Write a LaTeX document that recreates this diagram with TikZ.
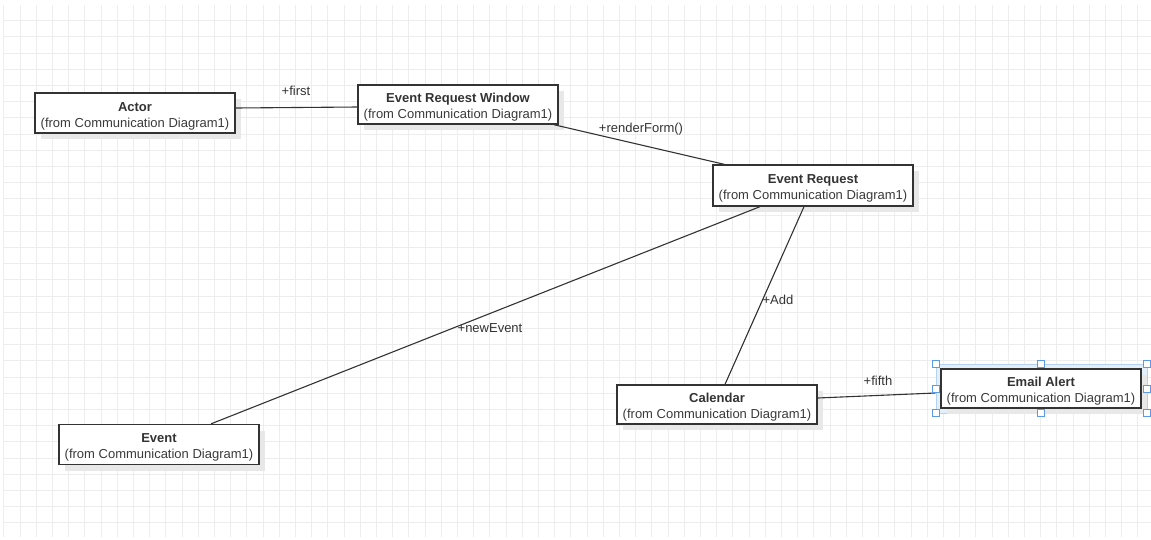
\documentclass[tikz,border=0pt]{standalone}
\usepackage{fontspec}
\setmainfont{Liberation Sans}
\usetikzlibrary{calc,shadows}
\definecolor{gridc}{HTML}{EDEDED}
\definecolor{ink}{HTML}{333333}
\definecolor{subink}{HTML}{3A3A3A}
\definecolor{selblue}{HTML}{5A9AE6}
\definecolor{selfill}{HTML}{E4EFFC}
\definecolor{shadowc}{HTML}{E8E8E8}
\tikzset{
  cls/.style={draw=ink, line width=1.3pt, fill=white, minimum width=200pt,
    minimum height=40pt, inner sep=0pt,
    general shadow={fill=shadowc, shadow xshift=6pt, shadow yshift=-6pt}},
  clstxt/.style={align=center, inner sep=0pt,
    font=\fontsize{13}{16}\selectfont, text=ink},
  conn/.style={draw=ink, line width=1.1pt},
  lbl/.style={font=\fontsize{13}{15.5}\selectfont, text=ink, inner sep=0pt},
  handle/.style={draw=selblue, fill=white, line width=0.8pt, minimum size=7pt, inner sep=0pt},
}
\newcommand{\clsText}[1]{{\bfseries #1}\\{\color{subink}(from Communication Diagram1)}}
\begin{document}
\begin{tikzpicture}[x=1pt, y=-1pt]
  \useasboundingbox (0,0) rectangle (1151,539);
  \fill[white] (0,0) rectangle (1151,539);
  % grid
  \begin{scope}
    \clip (3,5) rectangle (1151,537);
    \foreach \k in {-1,...,70} {
      \draw[gridc, line width=0.8pt] ({20+16.2*\k},5) -- ({20+16.2*\k},537);
    }
    \foreach \k in {-1,...,33} {
      \draw[gridc, line width=0.8pt] (3,{20.5+16.2*\k}) -- (1151,{20.5+16.2*\k});
    }
  \end{scope}

  % selection halo for Email Alert
  \fill[selfill] (936,364) rectangle (1147,413);
  \draw[selblue!45, line width=0.6pt] (936,364) rectangle (1147,413);

  % class boxes
  \node[cls, minimum height=40pt] (actor) at (135,113) {};
  \node[cls, minimum height=39pt] (erw) at (458,104.5) {};
  \node[cls, minimum height=41pt] (er) at (813,185.5) {};
  \node[cls, minimum height=39pt] (cal) at (717,404.5) {};
  \node[cls, minimum height=39pt, general shadow={fill=selfill, shadow xshift=0pt, shadow yshift=0pt}] (email) at (1041,388.5) {};
  \node[cls, minimum height=40pt] (event) at (159,444.5) {};

  % class texts
  \node[clstxt] (actorT) at ($(actor.center)+(0,3.5)$) {\clsText{Actor}};
  \node[clstxt] (erwT) at ($(erw.center)+(0,3)$) {\clsText{Event Request Window}};
  \node[clstxt] (erT) at ($(er.center)+(0,3)$) {\clsText{Event Request}};
  \node[clstxt] (calT) at ($(cal.center)+(0,3)$) {\clsText{Calendar}};
  \node[clstxt] (emailT) at ($(email.center)+(0,3)$) {\clsText{Email Alert}};
  \node[clstxt] (eventT) at ($(event.center)+(0,3)$) {\clsText{Event}};

  % connectors
  \draw[conn] ($(actor.east)+(0,-5)$) -- ($(erw.west)+(0,2.5)$);
  \draw[conn] ($(erw.south east)+(-5,0)$) -- ($(er.north west)+(12,0)$);
  \draw[conn] ($(er.south)+(-53,0)$) -- ($(event.north)+(52,0)$);
  \draw[conn] ($(er.south)+(-9,0)$) -- ($(cal.north)+(8,0)$);
  \draw[conn] ($(cal.east)+(0,-6.5)$) -- ($(email.west)+(-5,4.5)$);

  % labels
  \node[lbl] (lfirst) at (296,91) {+first};
  \node[lbl] (lrender) at (641,129) {+renderForm()};
  \node[lbl] (lnew) at (490,328) {+newEvent};
  \node[lbl] (ladd) at (778,300) {+Add};
  \node[lbl] (lfifth) at (878,381) {+fifth};

  % selection handles
  \node[handle] (h1) at (936,364) {};
  \node[handle] (h2) at (1041,364) {};
  \node[handle] (h3) at (1147,364) {};
  \node[handle] (h4) at (936,389) {};
  \node[handle] (h5) at (1147,389) {};
  \node[handle] (h6) at (936,413) {};
  \node[handle] (h7) at (1041,413) {};
  \node[handle] (h8) at (1147,413) {};
\end{tikzpicture}
\end{document}
